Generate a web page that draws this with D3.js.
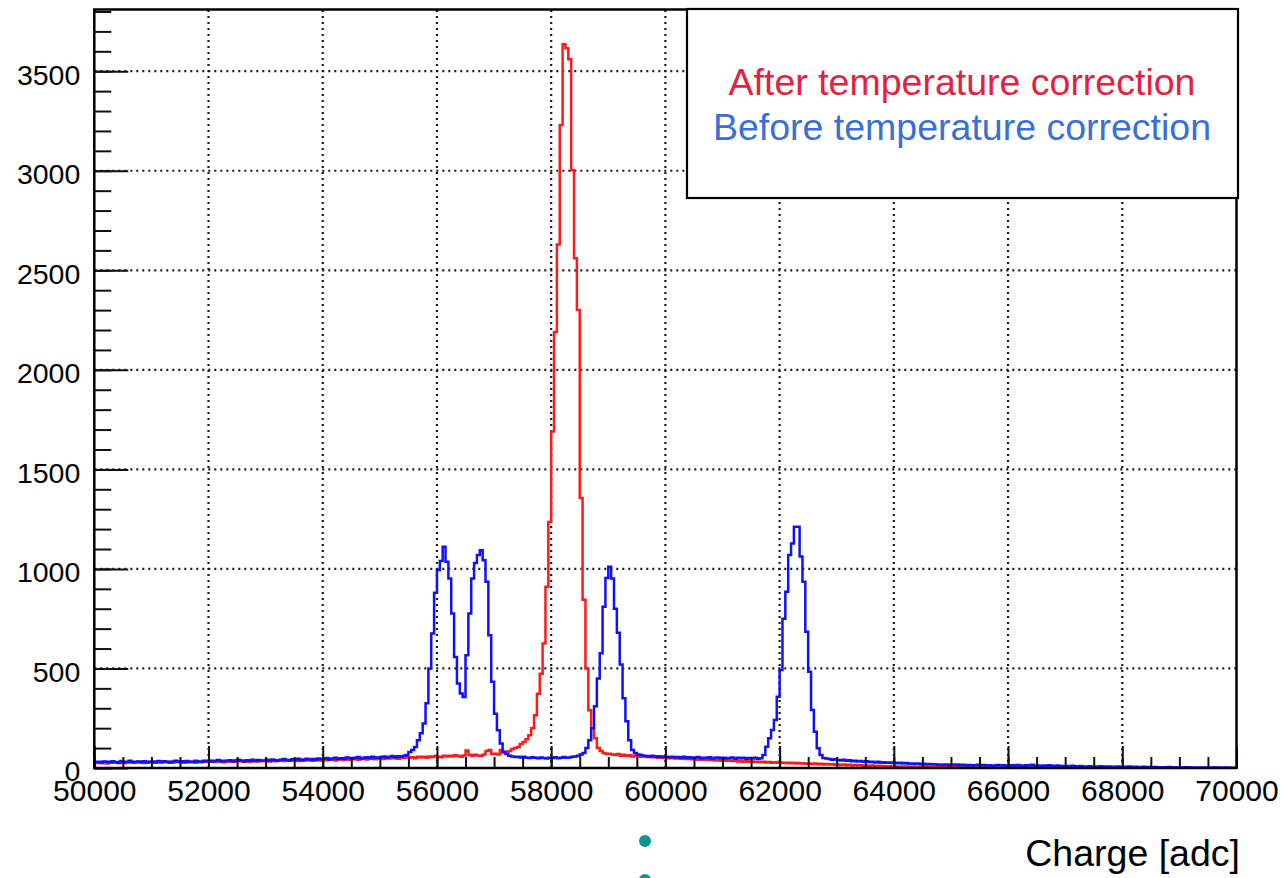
<!DOCTYPE html>
<html><head><meta charset="utf-8">
<script src="https://cdn.jsdelivr.net/npm/d3@7"></script>
<style>html,body{margin:0;padding:0;background:#fff;}svg{display:block;}</style>
</head><body>
<svg id="chart" width="1281" height="878"></svg>
<script>
// ---- data ----
const xMin = 50000, xMax = 70000, binWidth = 50;
const yMax = 3810;
const xMajorTicks = [50000,52000,54000,56000,58000,60000,62000,64000,66000,68000,70000];
const yMajorTicks = [0,500,1000,1500,2000,2500,3000,3500];
const xTitle = "Charge [adc]";
const seriesNames = ["After temperature correction", "Before temperature correction"];

// "After temperature correction" counts, 50-adc bins from 50000 (one row per 1000 adc)
const afterCounts = [
  25,28,24,30,22,26,27,29,25,31,24,28,30,26,29,32,27,25,30,28,
  29,27,31,26,30,33,28,27,32,30,29,34,28,31,30,27,33,29,32,35,
  31,34,30,36,32,29,35,33,37,31,34,38,32,35,30,36,34,33,37,35,
  36,33,38,34,37,40,35,39,36,41,38,35,40,37,42,39,36,43,40,38,
  42,39,44,41,38,45,43,40,46,42,44,48,41,45,47,43,49,46,44,50,
  47,45,51,48,52,49,46,53,50,55,51,54,49,57,53,56,52,58,55,60,
  57,54,61,58,62,59,64,60,57,63,88,66,62,67,63,60,68,85,90,70,
  72,68,90,75,80,85,95,100,105,120,130,145,165,200,265,373,474,625,910,1236,
  1690,2190,2630,3230,3635,3615,3560,3003,2560,2300,1356,845,500,290,200,150,100,85,75,70,
  72,68,65,70,62,66,60,64,58,61,63,57,60,55,58,54,57,52,55,50,
  53,49,52,48,50,46,49,45,47,44,46,42,45,41,43,40,42,38,41,37,
  39,36,38,35,37,33,36,32,34,31,33,30,32,29,31,28,30,27,29,26,
  28,25,27,24,26,23,25,22,24,21,23,20,22,19,21,18,20,17,19,16,
  18,15,17,14,16,13,15,12,14,11,13,10,12,9,11,8,10,7,9,6,
  8,6,7,5,7,4,6,5,4,6,3,5,4,3,5,2,4,3,2,4,
  3,2,4,2,3,1,3,2,1,3,2,1,2,1,2,1,1,2,1,1,
  1,2,1,1,2,0,1,1,0,1,1,0,1,0,1,0,0,1,0,1,
  0,1,0,0,1,0,0,1,0,0,0,1,0,0,0,0,1,0,0,0,
  0,0,1,0,0,0,0,0,1,0,0,0,0,0,0,0,0,0,0,0,
  0,0,0,0,0,0,0,0,0,0,0,0,0,0,0,0,0,0,0,0
];

// "Before temperature correction" counts, same binning
const beforeCounts = [
  30,32,28,33,31,29,34,30,27,35,32,30,36,31,29,33,30,34,28,32,
  33,29,35,31,34,30,28,33,36,31,34,29,35,32,30,37,33,31,36,34,
  38,33,36,40,34,37,35,39,33,38,41,36,34,39,37,42,35,40,38,36,
  41,37,43,39,36,42,45,40,38,44,41,46,39,43,47,42,45,40,48,44,
  46,50,43,48,52,45,49,47,53,50,46,51,55,48,52,54,50,56,53,51,
  55,58,52,57,60,54,59,56,62,65,80,90,106,139,174,224,325,500,676,880,
  994,1040,1111,1036,952,776,558,424,374,357,566,776,952,1030,1070,1094,1044,935,667,433,
  273,190,123,82,70,62,58,55,57,53,56,52,50,54,51,49,53,50,48,52,
  50,54,49,52,55,51,53,56,58,62,68,75,100,140,200,310,450,577,810,955,
  1011,952,800,680,520,350,235,140,90,75,68,65,62,60,58,61,57,59,55,58,
  56,54,57,53,55,52,56,51,54,50,53,55,49,52,50,54,48,51,53,49,
  52,48,50,53,47,51,49,52,46,50,48,51,47,49,65,107,149,191,241,358,
  492,750,885,1070,1128,1212,1212,1062,936,685,484,291,182,99,65,50,48,45,42,44,
  40,38,41,36,39,34,37,33,35,31,34,30,32,28,31,27,29,26,28,25,
  27,24,26,22,25,21,23,20,22,19,21,18,20,17,19,16,18,15,17,14,
  18,15,17,14,16,13,15,12,14,16,13,15,12,14,11,13,15,12,14,11,
  12,14,11,15,13,10,14,12,16,11,13,9,12,10,14,11,9,12,8,10,
  10,8,11,9,7,10,8,6,9,7,8,6,9,5,7,8,6,5,7,6,
  6,5,7,4,6,5,3,6,4,5,3,5,4,2,4,3,5,2,4,3,
  3,2,4,2,3,1,3,2,2,3,1,2,1,2,1,1,2,1,0,1
];

// ---- layout ----
const plot = {left: 94.3, right: 1236.5, top: 9.5, bottom: 768};
const FONT = "'Liberation Sans', Arial, Helvetica, sans-serif";

const svg = d3.select("#chart");
svg.append("rect").attr("width",1281).attr("height",878).attr("fill","#fff");

const x = d3.scaleLinear().domain([xMin, xMax]).range([plot.left, plot.right]);
const y = d3.scaleLinear().domain([0, yMax]).range([plot.bottom, plot.top]);

// grid (dotted)
const grid = svg.append("g").attr("stroke","#1a1a1a").attr("stroke-width",2.2)
  .attr("stroke-dasharray","2,4").attr("stroke-linecap","butt");
grid.selectAll("line.vx").data(xMajorTicks.filter(v => v > xMin && v < xMax)).join("line")
  .attr("x1", d => x(d)).attr("x2", d => x(d)).attr("y1", plot.bottom).attr("y2", plot.top);
grid.selectAll("line.hy").data(yMajorTicks.filter(v => v > 0)).join("line")
  .attr("y1", d => y(d)).attr("y2", d => y(d)).attr("x1", plot.left).attr("x2", plot.right);

// histograms
svg.append("clipPath").attr("id","clip").append("rect")
  .attr("x", plot.left).attr("y", plot.top).attr("width", plot.right-plot.left).attr("height", plot.bottom-plot.top);

function histPoints(counts){
  const pts = counts.map((v,i) => ({e: xMin + i*binWidth, v}));
  pts.push({e: xMax, v: counts[counts.length-1]});
  return pts;
}
const line = d3.line().x(d => x(d.e)).y(d => y(d.v)).curve(d3.curveStepAfter);
const hg = svg.append("g").attr("clip-path","url(#clip)").attr("fill","none").attr("stroke-width",2.5)
  .attr("stroke-linejoin","miter");
hg.append("path").attr("d", line(histPoints(afterCounts))).attr("stroke","#ff1a1a");
hg.append("path").attr("d", line(histPoints(beforeCounts))).attr("stroke","#1010ff");

// axes
const tickColor = "#111";
const minorX = d3.range(xMin, xMax + 1, 500);
const minorY = d3.range(0, yMax, 100);

const gx = svg.append("g").attr("transform",`translate(0,${plot.bottom})`);
gx.call(d3.axisBottom(x).tickValues(minorX).tickSize(-11).tickSizeOuter(0).tickFormat(""));
gx.call(g => g.select(".domain").remove());
const gx2 = svg.append("g").attr("transform",`translate(0,${plot.bottom})`);
gx2.call(d3.axisBottom(x).tickValues(xMajorTicks).tickSize(-22).tickSizeOuter(0).tickPadding(12).tickFormat(d3.format("d")));
gx2.call(g => g.select(".domain").remove());
[gx, gx2].forEach(g => g.selectAll(".tick line").attr("stroke", tickColor).attr("stroke-width",2));
gx2.selectAll(".tick text").attr("font-family", FONT).attr("font-size", 30).attr("fill","#000");

const gy = svg.append("g").attr("transform",`translate(${plot.left},0)`);
gy.call(d3.axisLeft(y).tickValues(minorY).tickSize(-17).tickSizeOuter(0).tickFormat(""));
gy.call(g => g.select(".domain").remove());
const gy2 = svg.append("g").attr("transform",`translate(${plot.left},0)`);
gy2.call(d3.axisLeft(y).tickValues(yMajorTicks).tickSize(-34).tickSizeOuter(0).tickPadding(14).tickFormat(d3.format("d")));
gy2.call(g => g.select(".domain").remove());
[gy, gy2].forEach(g => g.selectAll(".tick line").attr("stroke", tickColor).attr("stroke-width",2));
gy2.selectAll(".tick text").attr("font-family", FONT).attr("font-size", 28.5).attr("fill","#000").attr("dy","0.45em");

// frame
svg.append("rect").attr("x", plot.left).attr("y", plot.top)
  .attr("width", plot.right - plot.left).attr("height", plot.bottom - plot.top)
  .attr("fill","none").attr("stroke","#000").attr("stroke-width",2.5);

// legend
const legend = svg.append("g");
legend.append("rect").attr("x",687).attr("y",9).attr("width",551).attr("height",189)
  .attr("fill","#fff").attr("stroke","#000").attr("stroke-width",2.2);
const legendColors = ["#e2223f", "#3a6fd6"];
legend.selectAll("text").data(seriesNames).join("text")
  .attr("x", 962).attr("y", (d,i) => 95 + i*45)
  .attr("text-anchor","middle").attr("font-family", FONT).attr("font-size", 37.5)
  .attr("fill", (d,i) => legendColors[i]).text(d => d);

// x title
svg.append("text").attr("x", 1240).attr("y", 866).attr("text-anchor","end")
  .attr("font-family", FONT).attr("font-size", 37.5).attr("fill","#000").text(xTitle);

// teal page dots (screenshot artefact)
svg.selectAll("circle.dot").data([841, 880]).join("circle")
  .attr("cx", 645).attr("cy", d => d).attr("r", 6).attr("fill", "#0e9494");
</script>
</body></html>
